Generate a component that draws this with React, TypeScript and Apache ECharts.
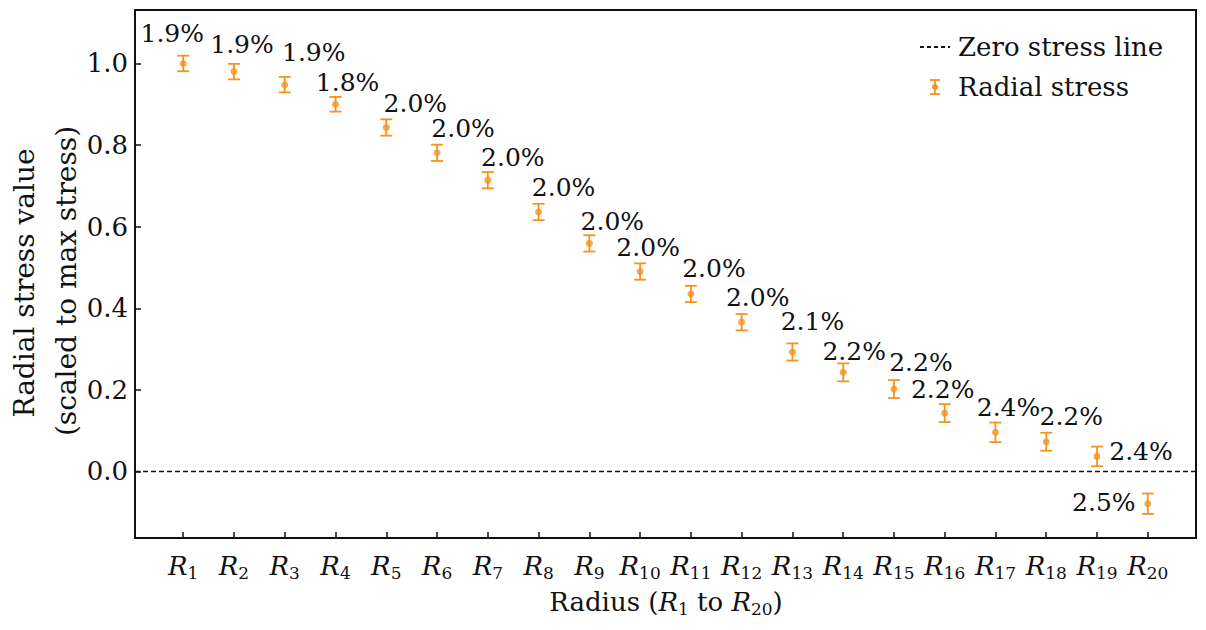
import React, { useEffect, useRef } from "react";
import * as echarts from "echarts";

const radiusIndex = [1, 2, 3, 4, 5, 6, 7, 8, 9, 10, 11, 12, 13, 14, 15, 16, 17, 18, 19, 20];
const stressValues = [1.0, 0.98, 0.948, 0.9, 0.843, 0.781, 0.714, 0.636, 0.559, 0.49, 0.435, 0.366, 0.293, 0.243, 0.202, 0.143, 0.096, 0.073, 0.037, -0.079];
const errorValues = [0.019, 0.019, 0.019, 0.018, 0.02, 0.02, 0.02, 0.02, 0.02, 0.02, 0.02, 0.02, 0.021, 0.022, 0.022, 0.022, 0.024, 0.022, 0.024, 0.025];
const percentLabels = ["1.9%", "1.9%", "1.9%", "1.8%", "2.0%", "2.0%", "2.0%", "2.0%", "2.0%", "2.0%", "2.0%", "2.0%", "2.1%", "2.2%", "2.2%", "2.2%", "2.4%", "2.2%", "2.4%", "2.5%"];
const yTickValues = [0, 0.2, 0.4, 0.6, 0.8, 1.0];
const legendNames = ["Zero stress line", "Radial stress"];

// label placement style (pixel offsets of each annotation from its point)
const labelOffsets = [
  [-11, -30], [8, -27], [29, -32], [12, -22], [29, -24], [26, -24], [25, -23],
  [25, -24], [23, -22], [8, -24], [23, -25], [16, -25], [20, -30], [11, -21],
  [27, -27], [-2, -24], [13, -25], [25, -25], [44, -5], [-44, -1],
];

const ORANGE = "#f5931e";
const TEXT = "#111111";
const FONT = "DejaVu Serif";
const X_MIN = 0.05;
const X_MAX = 20.95;

export default function App() {
  const ref = useRef<HTMLDivElement>(null);

  useEffect(() => {
    if (!ref.current) return;
    const chart = echarts.init(ref.current, null, { renderer: "svg" });

    const pointData = radiusIndex.map((x, i) => [x, stressValues[i]]);
    const labelData = radiusIndex.map((x, i) => [x, stressValues[i], i]);
    const errData = radiusIndex.map((x, i) => [
      x,
      stressValues[i] - errorValues[i],
      stressValues[i] + errorValues[i],
    ]);

    const option: any = {
      animation: false,
      backgroundColor: "#ffffff",
      grid: {
        left: 135,
        right: 10,
        top: 10,
        bottom: 92,
        show: true,
        borderColor: "#111",
        borderWidth: 2,
        backgroundColor: "transparent",
        containLabel: false,
        outerBoundsMode: "none",
      },
      xAxis: {
        type: "value",
        min: X_MIN,
        max: X_MAX,
        splitLine: { show: false },
        axisLine: { show: true, onZero: false, lineStyle: { color: "#111", width: 2 } },
        axisTick: {
          show: true,
          inside: true,
          length: 6,
          lineStyle: { color: "#111", width: 1.5 },
          customValues: radiusIndex,
        },
        axisLabel: {
          customValues: radiusIndex,
          margin: 12,
          formatter: (v: number) => `{r|R}{s|${v}}`,
          rich: {
            r: { fontFamily: FONT, fontStyle: "italic", fontSize: 26, color: TEXT },
            s: { fontFamily: FONT, fontSize: 17, color: TEXT, padding: [14, 0, 0, 0] },
          },
        },
      },
      yAxis: {
        type: "value",
        min: -0.163,
        max: 1.131,
        splitLine: { show: false },
        axisLine: { show: true, onZero: false, lineStyle: { color: "#111", width: 2 } },
        axisTick: {
          show: true,
          inside: true,
          length: 6,
          lineStyle: { color: "#111", width: 1.5 },
          customValues: yTickValues,
        },
        axisLabel: {
          customValues: yTickValues,
          margin: 7,
          fontFamily: FONT,
          fontSize: 26,
          color: TEXT,
          formatter: (v: number) => v.toFixed(1),
        },
      },
      series: [
        {
          name: legendNames[0],
          type: "line",
          data: [[X_MIN, 0], [X_MAX, 0]],
          symbol: "none",
          lineStyle: { color: "#111", width: 1.6, type: [5, 3] },
          z: 1,
        },
        {
          name: legendNames[1] + " error",
          type: "custom",
          data: errData,
          encode: { x: 0, y: [1, 2] },
          z: 2,
          renderItem: (params: any, api: any) => {
            const x = api.value(0);
            const lo = api.coord([x, api.value(1)]);
            const hi = api.coord([x, api.value(2)]);
            const hw = 6;
            const style = { stroke: ORANGE, lineWidth: 1.8 };
            return {
              type: "group",
              children: [
                { type: "line", shape: { x1: hi[0], y1: hi[1], x2: lo[0], y2: lo[1] }, style },
                { type: "line", shape: { x1: hi[0] - hw, y1: hi[1], x2: hi[0] + hw, y2: hi[1] }, style },
                { type: "line", shape: { x1: lo[0] - hw, y1: lo[1], x2: lo[0] + hw, y2: lo[1] }, style },
              ],
            };
          },
        },
        {
          name: legendNames[1],
          type: "scatter",
          data: pointData,
          symbol: "circle",
          symbolSize: 7,
          itemStyle: { color: ORANGE },
          z: 3,
        },
        {
          name: "Percent labels",
          type: "custom",
          data: labelData,
          encode: { x: 0, y: 1 },
          z: 4,
          renderItem: (params: any, api: any) => {
            const i = api.value(2);
            const p = api.coord([api.value(0), api.value(1)]);
            const off = labelOffsets[i];
            return {
              type: "text",
              x: p[0] + off[0],
              y: p[1] + off[1],
              style: {
                text: percentLabels[i],
                font: `25px "${FONT}"`,
                fill: TEXT,
                textAlign: "center",
                textVerticalAlign: "middle",
              },
            };
          },
        },
      ],
      graphic: [
        {
          type: "text",
          x: 24,
          y: 283,
          rotation: Math.PI / 2,
          style: {
            text: "Radial stress value",
            font: `28px "${FONT}"`,
            fill: TEXT,
            textAlign: "center",
            textVerticalAlign: "middle",
          },
        },
        {
          type: "text",
          x: 66,
          y: 281,
          rotation: Math.PI / 2,
          style: {
            text: "(scaled to max stress)",
            font: `28px "${FONT}"`,
            fill: TEXT,
            textAlign: "center",
            textVerticalAlign: "middle",
          },
        },
        {
          type: "text",
          x: 666,
          y: 602,
          style: {
            text: "{n|Radius (}{r|R}{s|1}{n| to }{r|R}{s|20}{n|)}",
            textAlign: "center",
            textVerticalAlign: "middle",
            rich: {
              n: { fontFamily: FONT, fontSize: 26, fill: TEXT, color: TEXT },
              r: { fontFamily: FONT, fontStyle: "italic", fontSize: 26, fill: TEXT, color: TEXT },
              s: { fontFamily: FONT, fontSize: 17, fill: TEXT, color: TEXT, padding: [14, 0, 0, 0] },
            },
          },
        },
        // legend
        {
          type: "line",
          shape: { x1: 920, y1: 47, x2: 950, y2: 47 },
          style: { stroke: "#111", lineWidth: 2, lineDash: [4, 3] },
        },
        {
          type: "text",
          x: 958,
          y: 47,
          style: {
            text: legendNames[0],
            font: `26px "${FONT}"`,
            fill: TEXT,
            textAlign: "left",
            textVerticalAlign: "middle",
          },
        },
        {
          type: "line",
          shape: { x1: 935, y1: 80, x2: 935, y2: 94 },
          style: { stroke: ORANGE, lineWidth: 1.8 },
        },
        {
          type: "line",
          shape: { x1: 930, y1: 80, x2: 940, y2: 80 },
          style: { stroke: ORANGE, lineWidth: 1.8 },
        },
        {
          type: "line",
          shape: { x1: 930, y1: 94, x2: 940, y2: 94 },
          style: { stroke: ORANGE, lineWidth: 1.8 },
        },
        {
          type: "circle",
          shape: { cx: 935, cy: 87, r: 3 },
          style: { fill: ORANGE },
        },
        {
          type: "text",
          x: 958,
          y: 87,
          style: {
            text: legendNames[1],
            font: `26px "${FONT}"`,
            fill: TEXT,
            textAlign: "left",
            textVerticalAlign: "middle",
          },
        },
      ],
    };

    chart.setOption(option);
    return () => chart.dispose();
  }, []);

  return (
    <div
      ref={ref}
      style={{ position: "absolute", left: 0, top: 0, width: 1206, height: 630 }}
    />
  );
}
